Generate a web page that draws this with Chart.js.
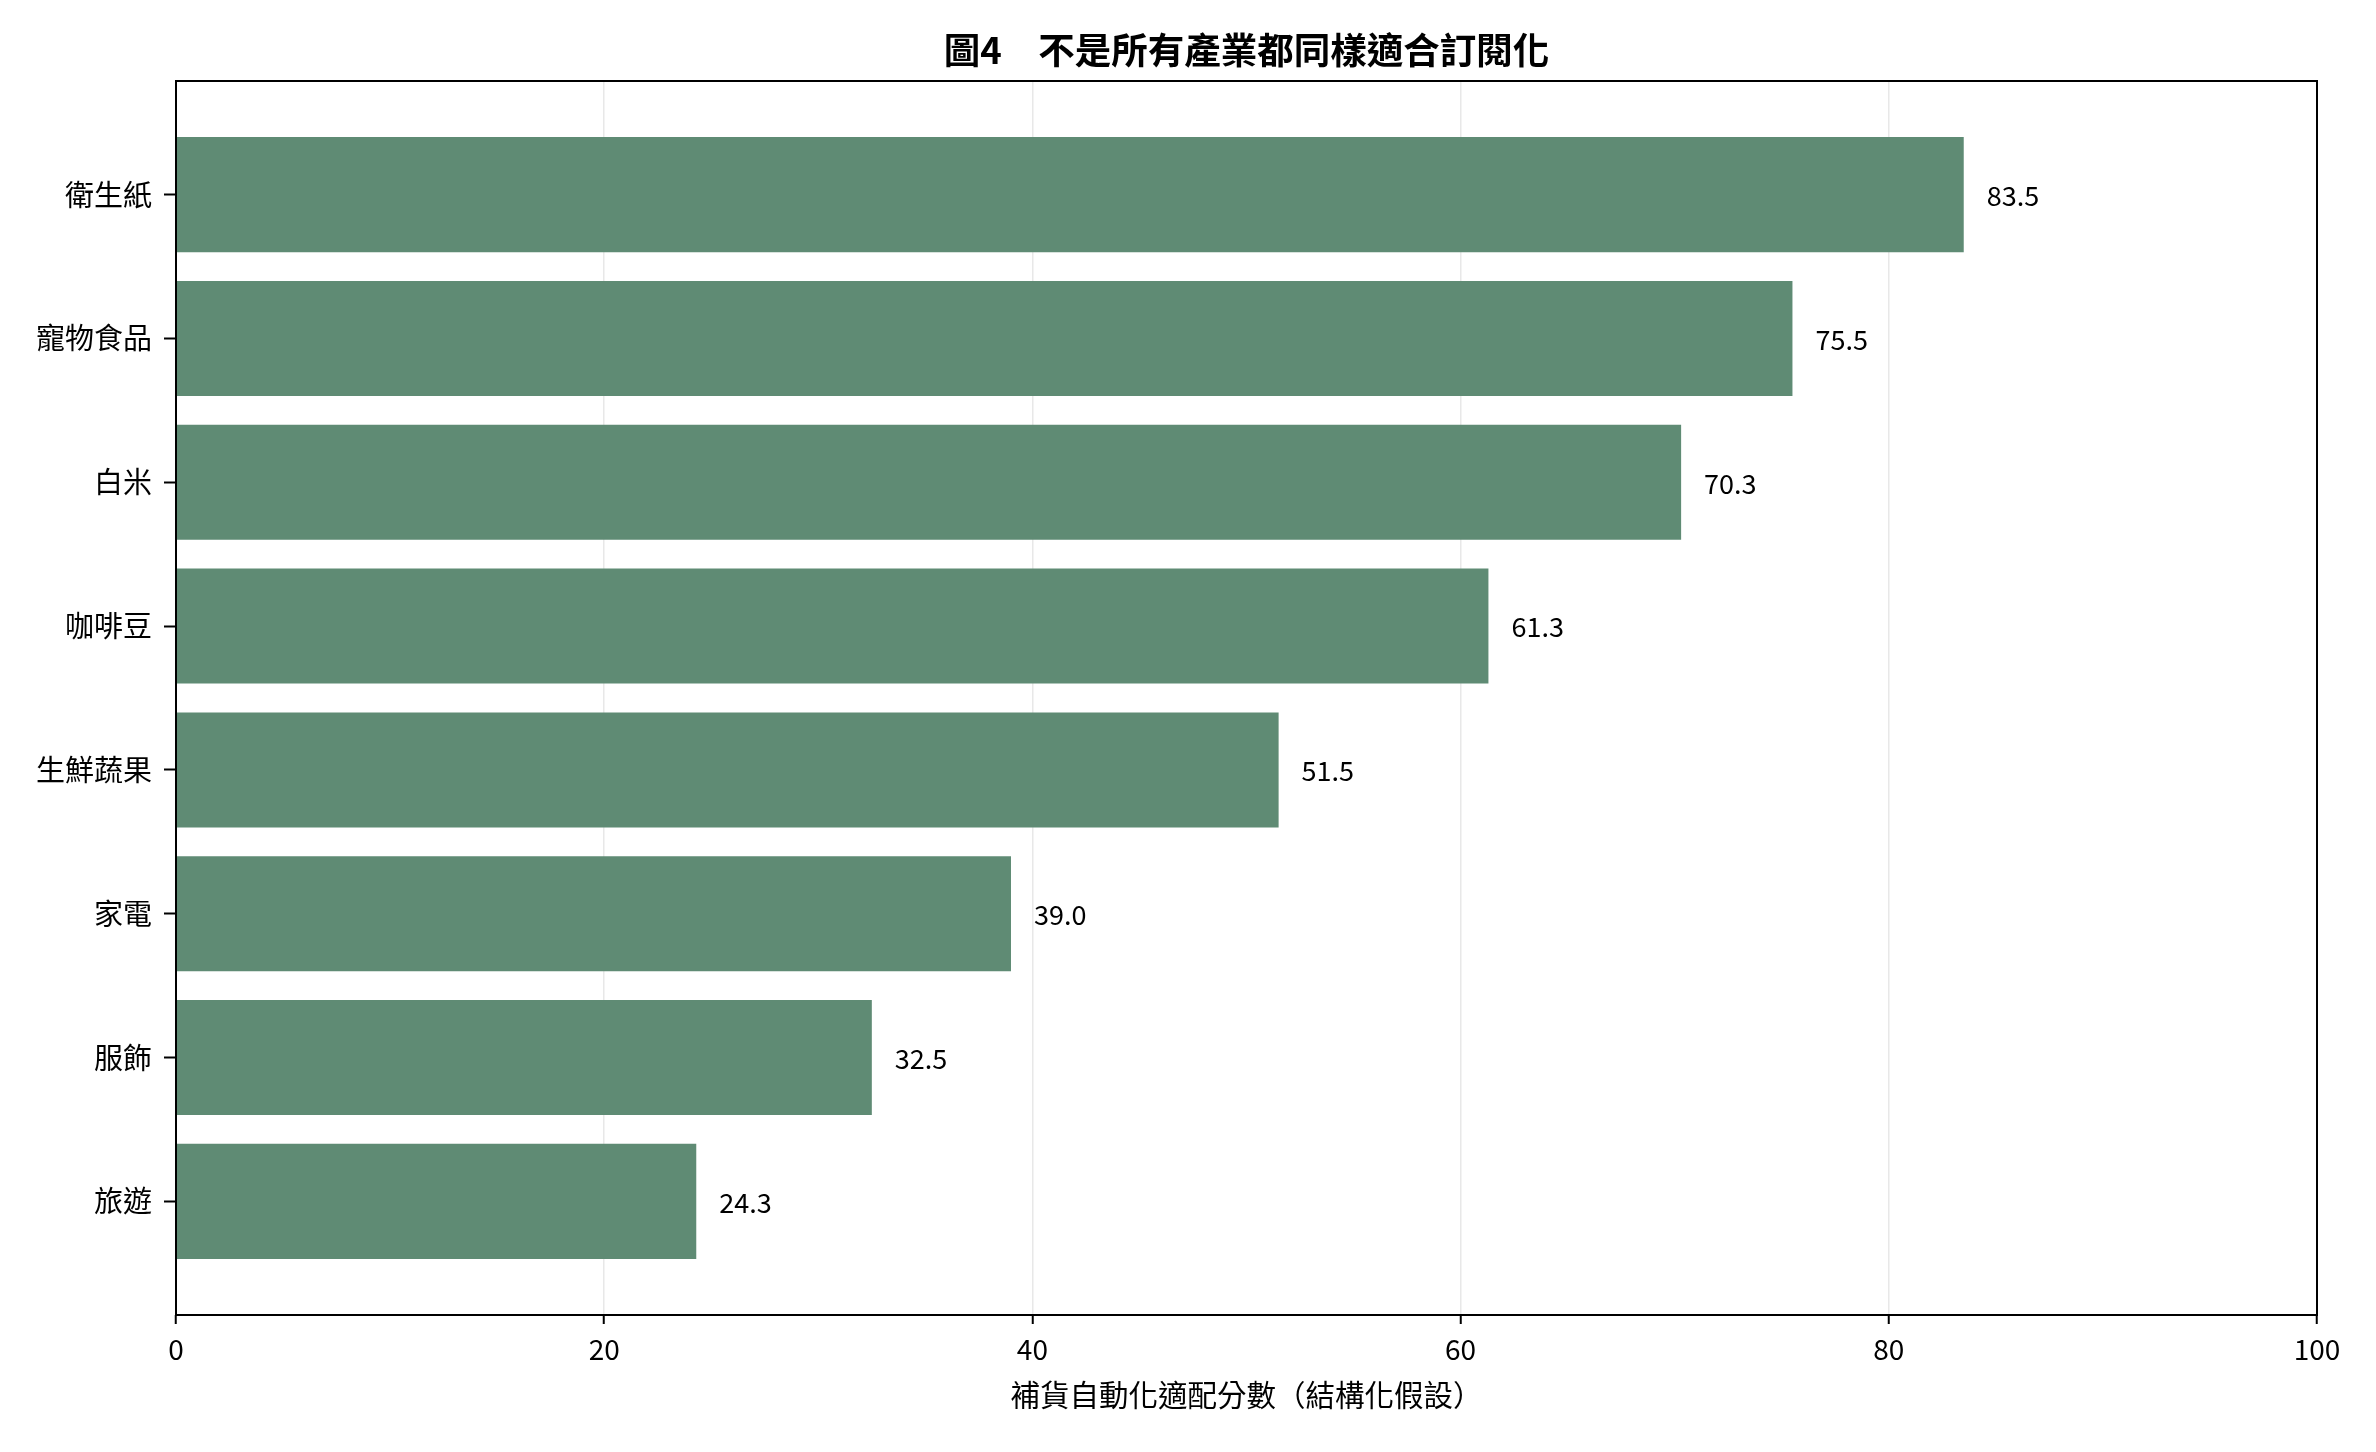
<!DOCTYPE html>
<html>
<head>
<meta charset="utf-8">
<script src="https://cdn.jsdelivr.net/npm/chart.js@4.4.1/dist/chart.umd.min.js"></script>
<style>
  html, body { margin: 0; padding: 0; background: #fff; }
  #wrap { width: 2376px; height: 1452px; }
</style>
</head>
<body>
<div id="wrap"><canvas id="chart" width="2376" height="1452"></canvas></div>
<script>
const categories = ['衛生紙', '寵物食品', '白米', '咖啡豆', '生鮮蔬果', '家電', '服飾', '旅遊'];
const scores = [83.5, 75.5, 70.3, 61.3, 51.5, 39.0, 32.5, 24.3];
const xTicks = [0, 20, 40, 60, 80, 100];
const titleText = '圖4　不是所有產業都同樣適合訂閱化';
const xTitle = '補貨自動化適配分數（結構化假設）';

const FONT = '"Noto Sans CJK TC", "Noto Sans", sans-serif';
const barColor = '#5f8b74';

// title above the plot and the x axis title, both centred on the plot area
const titles = {
    id: 'titles',
    afterDraw(chart) {
        const { ctx, chartArea: a } = chart;
        const cx = (a.left + a.right) / 2;
        ctx.save();
        ctx.fillStyle = '#000';
        ctx.textAlign = 'center';
        ctx.textBaseline = 'middle';
        if ('fontKerning' in ctx) ctx.fontKerning = 'none';
        ctx.font = 'bold 36.5px ' + FONT;
        ctx.fillText(titleText, cx, 50);
        ctx.font = '29.5px ' + FONT;
        ctx.fillText(xTitle, cx, a.bottom + 80);
        ctx.restore();
    }
};

// values next to each bar
const valueLabels = {
    id: 'valueLabels',
    afterDatasetsDraw(chart) {
        const { ctx } = chart;
        const meta = chart.getDatasetMeta(0);
        ctx.save();
        ctx.font = '27px ' + FONT;
        ctx.fillStyle = '#000';
        ctx.textAlign = 'left';
        ctx.textBaseline = 'middle';
        meta.data.forEach((bar, i) => {
            ctx.fillText(scores[i].toFixed(1), bar.x + 23, bar.y + 1);
        });
        ctx.restore();
    }
};

// black box round the plot area
const frame = {
    id: 'frame',
    afterDatasetsDraw(chart) {
        const { ctx, chartArea: a } = chart;
        ctx.save();
        ctx.strokeStyle = '#000';
        ctx.lineWidth = 2;
        ctx.strokeRect(a.left, a.top, a.right - a.left, a.bottom - a.top);
        ctx.restore();
    }
};

const ctx = document.getElementById('chart').getContext('2d');
new Chart(ctx, {
    type: 'bar',
    data: {
        datasets: [{
            data: scores.map((v, i) => ({ x: v, y: i })),
            backgroundColor: barColor,
            borderWidth: 0,
            categoryPercentage: 1,
            barPercentage: 0.8
        }]
    },
    options: {
        indexAxis: 'y',
        responsive: false,
        animation: false,
        devicePixelRatio: 1,
        layout: { padding: { top: 81, right: 59, left: 0, bottom: 0 } },
        plugins: {
            legend: { display: false },
            tooltip: { enabled: false }
        },
        scales: {
            x: {
                type: 'linear',
                min: 0,
                max: 100,
                afterBuildTicks: s => { s.ticks = xTicks.map(v => ({ value: v })); },
                afterFit: s => { s.height = 137; },
                ticks: {
                    color: '#000',
                    font: { family: FONT, size: 28 },
                    padding: 9,
                    maxRotation: 0
                },
                grid: {
                    color: '#e8e8e8',
                    lineWidth: 1.5,
                    tickColor: '#000',
                    tickWidth: 2,
                    tickLength: 9
                },
                border: { display: false }
            },
            y: {
                type: 'linear',
                reverse: true,
                offset: false,
                min: -0.79,
                max: 7.79,
                afterBuildTicks: s => { s.ticks = categories.map((c, i) => ({ value: i })); },
                afterFit: s => { s.width = 176; },
                ticks: {
                    color: '#000',
                    font: { family: FONT, size: 29 },
                    padding: 12,
                    callback: v => categories[v]
                },
                grid: {
                    offset: false,
                    drawOnChartArea: false,
                    tickColor: '#000',
                    tickWidth: 2,
                    tickLength: 12
                },
                border: { display: false }
            }
        }
    },
    plugins: [titles, valueLabels, frame]
});
</script>
</body>
</html>
